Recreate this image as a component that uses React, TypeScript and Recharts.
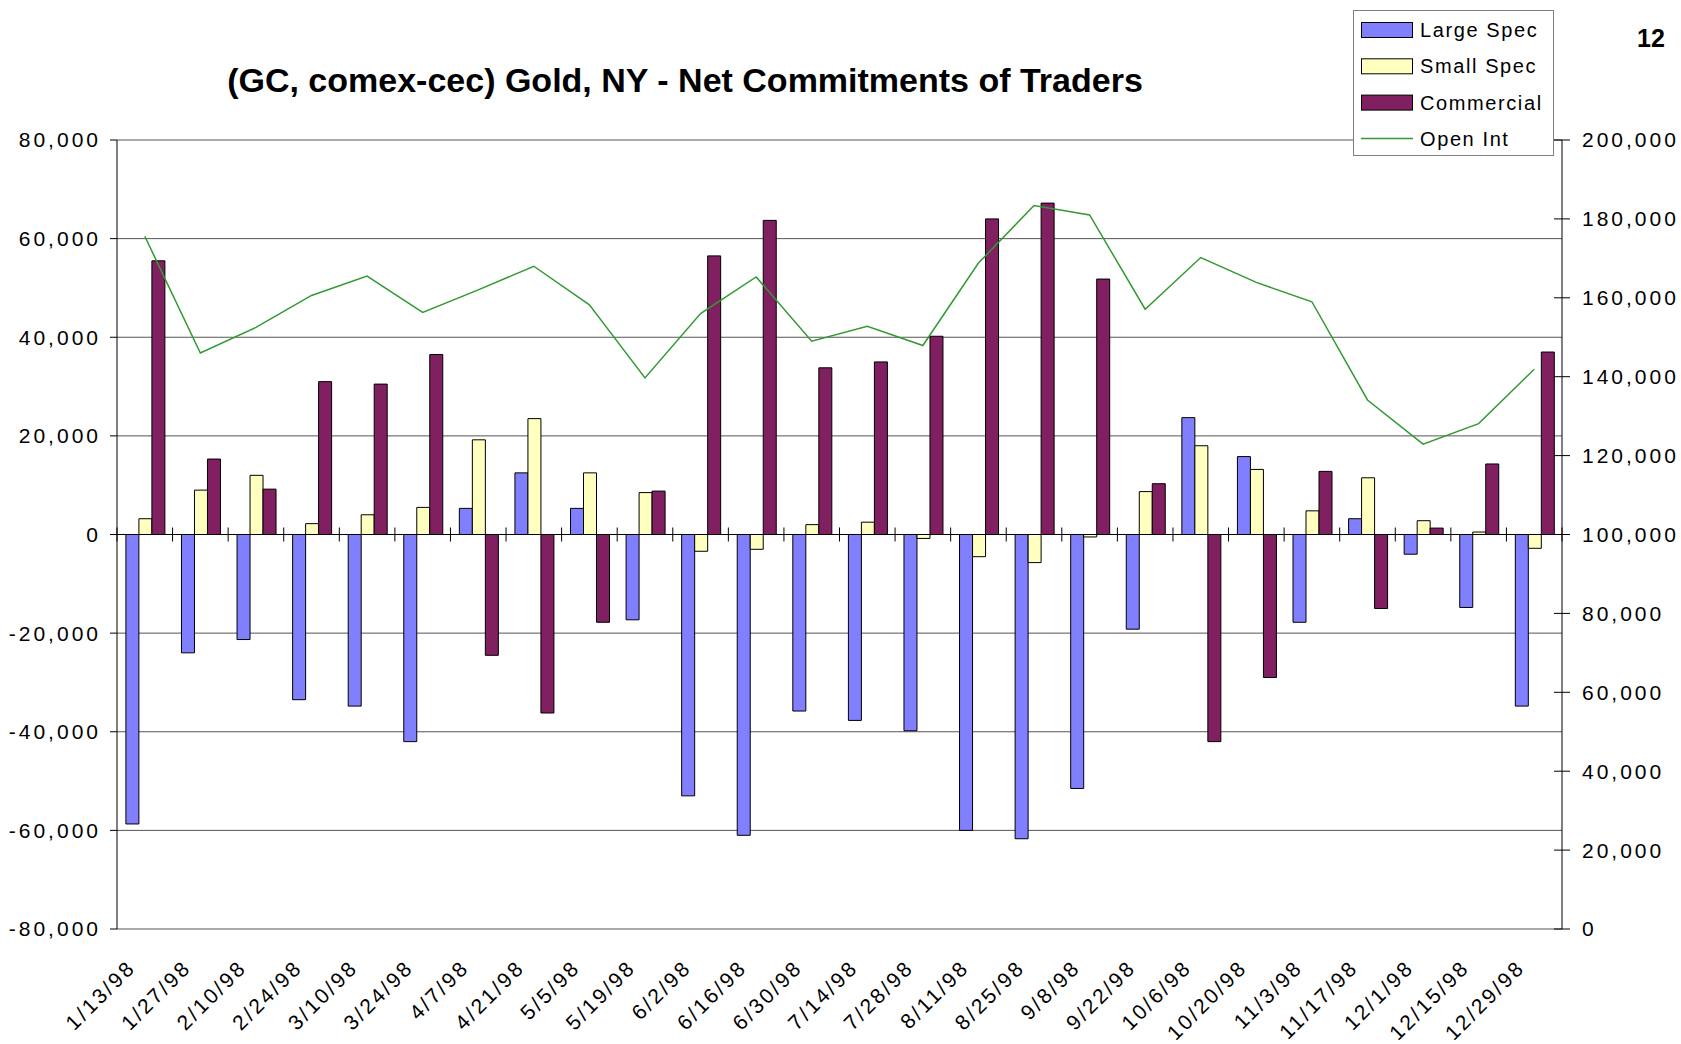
import {
  ComposedChart,
  Bar,
  Line,
  XAxis,
  YAxis,
  CartesianGrid,
  ReferenceLine,
} from 'recharts';

const DATES = [
  '1/13/98', '1/27/98', '2/10/98', '2/24/98', '3/10/98', '3/24/98', '4/7/98', '4/21/98',
  '5/5/98', '5/19/98', '6/2/98', '6/16/98', '6/30/98', '7/14/98', '7/28/98', '8/11/98',
  '8/25/98', '9/8/98', '9/22/98', '10/6/98', '10/20/98', '11/3/98', '11/17/98', '12/1/98',
  '12/15/98', '12/29/98',
];

const LARGE_SPEC = [
  -58700, -24000, -21300, -33500, -34800, -42000, 5300, 12500, 5300, -17300, -53000, -61000,
  -35800, -37700, -39800, -60000, -61700, -51500, -19200, 23700, 15800, -17800, 3200, -4000,
  -14800, -34800,
];
const SMALL_SPEC = [
  3200, 9000, 12000, 2200, 4000, 5500, 19200, 23500, 12500, 8500, -3400, -3000,
  2000, 2500, -800, -4500, -5700, -500, 8700, 18000, 13200, 4800, 11500, 2800,
  500, -2800,
];
const COMMERCIAL = [
  55500, 15300, 9200, 31000, 30500, 36500, -24500, -36200, -17800, 8800, 56500, 63700,
  33800, 35000, 40200, 64000, 67200, 51800, 10300, -42000, -29000, 12800, -15000, 1300,
  14300, 37000,
];
const OPEN_INT = [
  175600, 146000, 152500, 160600, 165500, 156300, 162000, 168000, 158200, 139700, 156000, 165300,
  149000, 152800, 147900, 168800, 183400, 181000, 157100, 170200, 163900, 159000, 134100, 122900,
  128100, 141900,
];

const LEFT_TICKS = [-80000, -60000, -40000, -20000, 0, 20000, 40000, 60000, 80000];
const RIGHT_TICKS = [0, 20000, 40000, 60000, 80000, 100000, 120000, 140000, 160000, 180000, 200000];

const SERIES = [
  { key: 'large', name: 'Large Spec', color: '#8080FF' },
  { key: 'small', name: 'Small Spec', color: '#FFFFC0' },
  { key: 'commercial', name: 'Commercial', color: '#802060' },
];
const LINE_SERIES = { key: 'oi', name: 'Open Int', color: '#339933' };

const W = 1681;
const H = 1044;
const PLOT_TOP = 140;
const PLOT_LEFT = 117;
const PLOT_RIGHT = 1562;
const PLOT_BOTTOM = 929;
const ZERO_Y = (PLOT_TOP + PLOT_BOTTOM) / 2;
const BAND = (PLOT_RIGHT - PLOT_LEFT) / DATES.length;
const FONT = '"Liberation Sans", Arial, sans-serif';

const data = DATES.map((date, i) => ({
  date,
  large: LARGE_SPEC[i],
  small: SMALL_SPEC[i],
  commercial: COMMERCIAL[i],
  oi: OPEN_INT[i],
}));

const fmt = (v: number) => v.toLocaleString('en-US');

function DateTick(props: any) {
  const { x, payload, index } = props;
  const half = BAND / 2;
  const lx = x - 8;
  const ly = 969;
  return (
    <g>
      <line x1={x - half} x2={x - half} y1={ZERO_Y - 7} y2={ZERO_Y + 7} stroke="#000" />
      {index === DATES.length - 1 && (
        <line x1={x + half} x2={x + half} y1={ZERO_Y - 7} y2={ZERO_Y + 7} stroke="#000" />
      )}
      <text
        x={lx}
        y={ly}
        transform={`rotate(-45 ${lx} ${ly})`}
        textAnchor="end"
        fontSize={21}
        letterSpacing={2.6}
        fontFamily={FONT}
        fill="#000"
      >
        {payload.value}
      </text>
    </g>
  );
}

function RightTick(props: any) {
  const { x, y, payload } = props;
  return (
    <g>
      <line x1={PLOT_RIGHT - 8} x2={PLOT_RIGHT} y1={y} y2={y} stroke="#000" />
      <text
        x={x}
        y={y}
        dy="0.355em"
        textAnchor="start"
        fontSize={21}
        letterSpacing={3}
        fontFamily={FONT}
        fill="#000"
      >
        {fmt(payload.value)}
      </text>
    </g>
  );
}

function Overlay() {
  return (
    <svg
      width={W}
      height={H}
      style={{ position: 'absolute', left: 0, top: 0, pointerEvents: 'none' }}
    >
      <text x={685} y={92} textAnchor="middle" fontSize={34} fontWeight="bold" fontFamily={FONT}>
        (GC, comex-cec) Gold, NY - Net Commitments of Traders
      </text>
      <text x={1637} y={47} fontSize={25} fontWeight="bold" fontFamily={FONT}>
        12
      </text>
      <rect x={1353.5} y={10.5} width={200} height={145} fill="#fff" stroke="#808080" />
      {SERIES.map((s, i) => (
        <g key={s.key}>
          <rect x={1361.5} y={22.5 + i * 36.3} width={51} height={15} fill={s.color} stroke="#000" />
          <text x={1420} y={37 + i * 36.3} fontSize={20} letterSpacing={1.6} fontFamily={FONT}>
            {s.name}
          </text>
        </g>
      ))}
      <line x1={1361} x2={1413} y1={138.5} y2={138.5} stroke={LINE_SERIES.color} strokeWidth={1.5} />
      <text x={1420} y={146} fontSize={20} letterSpacing={1.6} fontFamily={FONT}>
        {LINE_SERIES.name}
      </text>
    </svg>
  );
}

export default function App() {
  return (
    <div style={{ position: 'absolute', left: 0, top: 0, width: W, height: H, background: '#fff' }}>
      <ComposedChart
        width={W}
        height={H}
        data={data}
        margin={{ top: PLOT_TOP, right: 0, bottom: 0, left: 0 }}
        barCategoryGap="16%"
        barGap={0}
      >
        <CartesianGrid yAxisId="left" vertical={false} stroke="#555" strokeWidth={1} />
        <XAxis
          dataKey="date"
          interval={0}
          height={H - PLOT_BOTTOM}
          axisLine={false}
          tickLine={false}
          tick={<DateTick />}
        />
        <YAxis
          yAxisId="left"
          width={PLOT_LEFT}
          domain={[-80000, 80000]}
          ticks={LEFT_TICKS}
          interval={0}
          tickFormatter={fmt}
          stroke="#000"
          tickSize={7}
          tickMargin={9}
          tick={{ fontSize: 21, fill: '#000', fontFamily: FONT, letterSpacing: 3 }}
        />
        <YAxis
          yAxisId="right"
          orientation="right"
          width={W - PLOT_RIGHT}
          domain={[0, 200000]}
          ticks={RIGHT_TICKS}
          interval={0}
          stroke="#000"
          tickSize={8}
          tickMargin={12}
          tick={<RightTick />}
        />
        <ReferenceLine yAxisId="left" y={0} stroke="#000" />
        {SERIES.map((s) => (
          <Bar
            key={s.key}
            yAxisId="left"
            dataKey={s.key}
            name={s.name}
            fill={s.color}
            stroke="#000"
            strokeWidth={1}
            isAnimationActive={false}
          />
        ))}
        <Line
          yAxisId="right"
          dataKey={LINE_SERIES.key}
          name={LINE_SERIES.name}
          stroke={LINE_SERIES.color}
          strokeWidth={1.5}
          dot={false}
          type="linear"
          isAnimationActive={false}
        />
      </ComposedChart>
      <Overlay />
    </div>
  );
}
